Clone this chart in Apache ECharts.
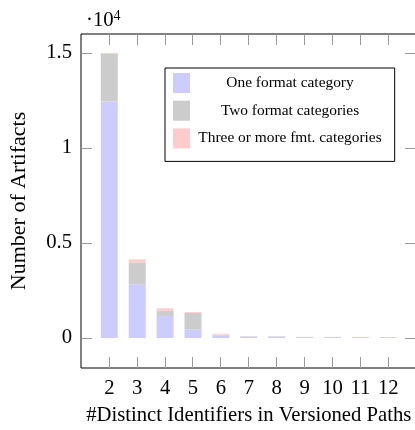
<!DOCTYPE html>
<html>
<head>
<meta charset="utf-8">
<style>html,body{margin:0;padding:0;background:#fff;}#c{width:415px;height:430px;}</style>
<script src="https://cdn.jsdelivr.net/npm/echarts@6/dist/echarts.min.js"></script>
</head>
<body>
<div id="c"></div>
<script>
const categories = ['2', '3', '4', '5', '6', '7', '8', '9', '10', '11', '12'];
const categoryPositions = [2, 3, 4, 5, 6, 7, 8, 9, 10, 11, 12];
const oneFormat = [12450, 2830, 1160, 450, 130, 80, 80, 50, 50, 50, 45];
const twoFormats = [2500, 1150, 280, 870, 50, 15, 12, 5, 5, 5, 5];
const threePlus = [50, 160, 120, 50, 40, 10, 10, 3, 3, 3, 2];
const seriesNames = ['One format category', 'Two format categories', 'Three or more fmt. categories'];
const seriesColors = ['#ccccff', '#cccccc', '#ffcccc'];
const yTickValues = [0, 5000, 10000, 15000];
const yTickLabels = ['0', '0.5', '1', '1.5'];
const xTitle = '#Distinct Identifiers in Versioned Paths';
const yTitle = 'Number of Artifacts';

const FONT = 'Liberation Serif';
const FS = 20.7;
const tickStyle = { color: '#999', width: 1 };
const Y_MIN = -1580, Y_MAX = 16000;
const PLOT_H = 334;

const chart = echarts.init(document.getElementById('c'), null, { renderer: 'canvas' });
const seriesData = [oneFormat, twoFormats, threePlus];
chart.setOption({
  animation: false,
  backgroundColor: '#fff',
  title: {
    text: '{a|·10}{s|4}',
    left: 86, top: 9, padding: 0,
    textStyle: {
      fontWeight: 'normal',
      rich: {
        a: { fontFamily: FONT, fontSize: FS, fontWeight: 'normal', color: '#000', lineHeight: 24 },
        s: { fontFamily: FONT, fontSize: 14, fontWeight: 'normal', color: '#000', verticalAlign: 'top', lineHeight: 14 }
      }
    }
  },
  grid: [
    { left: 95.35, top: 34, width: 306.9, height: PLOT_H, show: false, containLabel: false, outerBoundsMode: 'none' },
    { left: 81, top: 34, width: 335, height: PLOT_H, show: true, borderColor: '#000', borderWidth: 1, backgroundColor: 'transparent', containLabel: false, outerBoundsMode: 'none' }
  ],
  legend: {
    orient: 'vertical', left: 165, top: 68,
    padding: [5, 13, 13, 8],
    itemWidth: 17, itemHeight: 20, itemGap: 7.7,
    icon: 'rect', selectedMode: false,
    borderColor: '#000', borderWidth: 1, backgroundColor: '#fff',
    data: seriesNames,
    formatter: n => '{c|' + n + '}',
    textStyle: {
      fontFamily: FONT, fontSize: 15.4, color: '#000',
      rich: { c: { fontFamily: FONT, fontSize: 15.4, color: '#000', width: 190, align: 'center' } }
    }
  },
  xAxis: [
    {
      type: 'category', gridIndex: 0, data: categories, boundaryGap: true, position: 'bottom',
      axisLine: { show: false, onZero: false }, splitLine: { show: false },
      axisTick: { show: false },
      axisLabel: { margin: 10, fontFamily: FONT, fontSize: FS, color: '#000', interval: 0 },
      name: xTitle, nameLocation: 'middle', nameGap: 37,
      nameTextStyle: { fontFamily: FONT, fontSize: FS, color: '#000' }
    },
    {
      type: 'value', gridIndex: 1, min: 1, max: 13, interval: 1, position: 'top', offset: -PLOT_H,
      axisLine: { show: false, onZero: false }, splitLine: { show: false },
      axisTick: { show: true, inside: false, length: 11, lineStyle: tickStyle, customValues: categoryPositions },
      axisLabel: { show: false }
    },
    {
      type: 'value', gridIndex: 1, min: 1, max: 13, interval: 1, position: 'top',
      axisLine: { show: false, onZero: false }, splitLine: { show: false },
      axisTick: { show: true, inside: true, length: 11, lineStyle: tickStyle, customValues: categoryPositions },
      axisLabel: { show: false }
    }
  ],
  yAxis: [
    {
      type: 'value', gridIndex: 0, min: Y_MIN, max: Y_MAX, show: false,
      axisLine: { onZero: false }
    },
    {
      type: 'value', gridIndex: 1, min: Y_MIN, max: Y_MAX, position: 'left',
      axisLine: { show: false, onZero: false }, splitLine: { show: false },
      axisTick: { inside: true, length: 11, lineStyle: tickStyle, customValues: yTickValues },
      axisLabel: {
        customValues: yTickValues, margin: 9, fontFamily: FONT, fontSize: FS, color: '#000',
        formatter: v => yTickLabels[yTickValues.indexOf(v)]
      },
      name: yTitle, nameLocation: 'middle', nameGap: 51,
      nameTextStyle: { fontFamily: FONT, fontSize: 22, color: '#000' }
    },
    {
      type: 'value', gridIndex: 1, min: Y_MIN, max: Y_MAX, position: 'right',
      axisLine: { show: false, onZero: false }, splitLine: { show: false },
      axisTick: { inside: true, length: 11, lineStyle: tickStyle, customValues: yTickValues },
      axisLabel: { show: false }
    }
  ],
  series: seriesNames.map((name, k) => ({
    name: name, type: 'bar', stack: 'total', barWidth: 17,
    xAxisIndex: 0, yAxisIndex: 0,
    itemStyle: { color: seriesColors[k] },
    emphasis: { disabled: true },
    data: seriesData[k]
  }))
});
</script>
</body>
</html>
